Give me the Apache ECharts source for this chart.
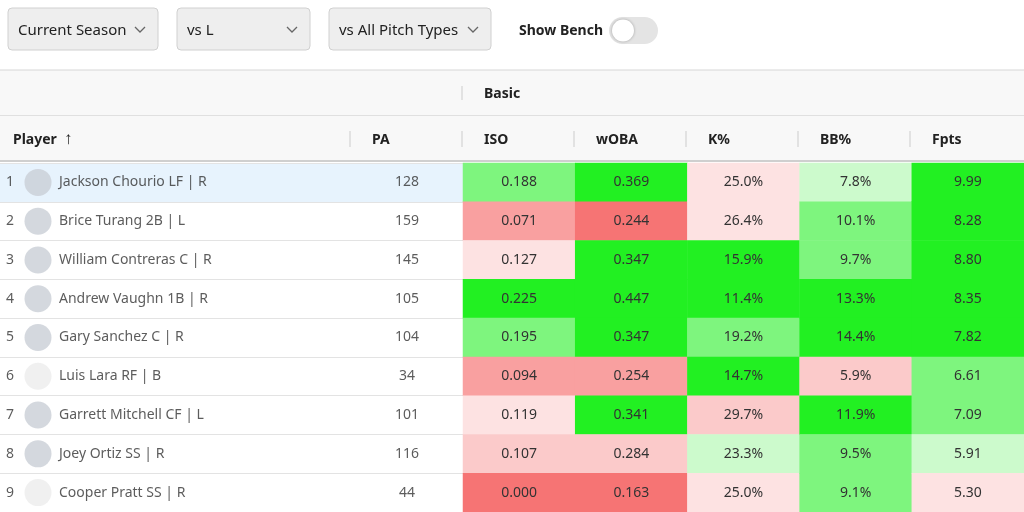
<!DOCTYPE html>
<html><head><meta charset="utf-8">
<script src="https://cdn.jsdelivr.net/npm/echarts@6/dist/echarts.min.js"></script>
<style>html,body{margin:0;padding:0;background:#fff}#c{width:1024px;height:512px}</style>
</head><body><div id="c"></div>
<script>
var statCols = ['ISO', 'wOBA', 'K%', 'BB%', 'Fpts'];
var players = ['Jackson Chourio LF | R', 'Brice Turang 2B | L', 'William Contreras C | R', 'Andrew Vaughn 1B | R',
  'Gary Sanchez C | R', 'Luis Lara RF | B', 'Garrett Mitchell CF | L', 'Joey Ortiz SS | R', 'Cooper Pratt SS | R'];
var hasPhoto = [1, 1, 1, 1, 1, 0, 1, 1, 0];
var pa = [128, 159, 145, 105, 104, 34, 101, 116, 44];
var iso = ['0.188', '0.071', '0.127', '0.225', '0.195', '0.094', '0.119', '0.107', '0.000'];
var woba = ['0.369', '0.244', '0.347', '0.447', '0.347', '0.254', '0.341', '0.284', '0.163'];
var kPct = ['25.0%', '26.4%', '15.9%', '11.4%', '19.2%', '14.7%', '29.7%', '23.3%', '25.0%'];
var bbPct = ['7.8%', '10.1%', '9.7%', '13.3%', '14.4%', '5.9%', '11.9%', '9.5%', '9.1%'];
var fpts = ['9.99', '8.28', '8.80', '8.35', '7.82', '6.61', '7.09', '5.91', '5.30'];
// shade tier: 3 best green ... -4 deepest red
var isoTier = [2, -3, -1, 3, 2, -3, -1, -2, -4];
var wobaTier = [3, -4, 3, 3, 3, -3, 3, -2, -4];
var kTier = [-1, -1, 3, 3, 2, 3, -2, 1, -1];
var bbTier = [1, 2, 2, 3, 3, -2, 3, 2, 2];
var fptsTier = [3, 3, 3, 3, 3, 2, 2, 1, -1];

var FONT = 'Noto Sans';
var rowH = 39.1, top0 = 163;
var texts = [iso, woba, kPct, bbPct, fpts];
var tiers = [isoTier, wobaTier, kTier, bbTier, fptsTier];
var heat = [];
for (var c = 0; c < statCols.length; c++) {
  for (var r = 0; r < players.length; r++) heat.push([c, r, tiers[c][r], texts[c][r]]);
}
var rows = players.map(function (p, i) { return String(i + 1); });
var rankPts = [], avatarPts = [], namePts = [], paPts = [];
for (var i = 0; i < players.length; i++) {
  rankPts.push([1, i, String(i + 1)]);
  avatarPts.push({ value: [38, i], itemStyle: { color: hasPhoto[i] ? '#c9ced6' : '#ececec' } });
  namePts.push([54, i, players[i]]);
  paPts.push([407, i, String(pa[i])]);
}

var chart = echarts.init(document.getElementById('c'));
var g = [];
function box(x, w, label) {
  g.push({ type: 'rect', shape: { x: x, y: 8, width: w, height: 42, r: 4 }, style: { fill: '#eeeeee', stroke: '#d0d0d0' } });
  g.push({ type: 'text', x: x + 10, y: 31, style: { text: label, font: '15px ' + FONT, fill: '#222', verticalAlign: 'middle' } });
  g.push({ type: 'polyline', shape: { points: [[x + w - 23, 27], [x + w - 18, 32], [x + w - 13, 27]] }, style: { stroke: '#666', lineWidth: 1.3, fill: null } });
}
box(8, 150, 'Current Season'); box(177, 133, 'vs L'); box(329, 162, 'vs All Pitch Types');
g.push({ type: 'text', x: 519, y: 31, style: { text: 'Show Bench', font: 'bold 14px ' + FONT, fill: '#222', verticalAlign: 'middle' } });
g.push({ type: 'rect', shape: { x: 609, y: 17, width: 49, height: 27, r: 13.5 }, style: { fill: '#e4e4e4' } });
g.push({ type: 'circle', shape: { cx: 623, cy: 30.5, r: 11 }, style: { fill: '#fff', shadowBlur: 3, shadowColor: 'rgba(0,0,0,0.3)' } });
// header area
g.push({ type: 'rect', z: -1, shape: { x: 0, y: 70, width: 1024, height: 91 }, style: { fill: '#f8f8f8' } });
g.push({ type: 'line', shape: { x1: 0, y1: 70, x2: 1024, y2: 70 }, style: { stroke: '#d6d6d6' } });
g.push({ type: 'line', shape: { x1: 0, y1: 115.5, x2: 1024, y2: 115.5 }, style: { stroke: '#e0e0e0' } });
g.push({ type: 'line', shape: { x1: 0, y1: 161, x2: 1024, y2: 161 }, style: { stroke: '#cfcfcf', lineWidth: 2 } });
g.push({ type: 'line', shape: { x1: 462, y1: 86, x2: 462, y2: 100 }, style: { stroke: '#ccc' } });
g.push({ type: 'text', x: 484, y: 94, style: { text: 'Basic', font: 'bold 14px ' + FONT, fill: '#222', verticalAlign: 'middle' } });
var hdr = [['Player', 13], ['PA', 372]];
statCols.forEach(function (s, k) { hdr.push([s, 484 + 112 * k]); });
hdr.forEach(function (h) {
  g.push({ type: 'text', x: h[1], y: 140, style: { text: h[0], font: 'bold 14px ' + FONT, fill: '#222', verticalAlign: 'middle' } });
});
g.push({ type: 'text', x: 64, y: 139, style: { text: '\u2191', font: '17px ' + FONT, fill: '#222', verticalAlign: 'middle' } });
[350, 462, 574, 686, 798, 910].forEach(function (x) {
  g.push({ type: 'line', shape: { x1: x, y1: 131, x2: x, y2: 147 }, style: { stroke: '#ccc' } });
});
// selected first row
g.push({ type: 'rect', z: -1, shape: { x: 0, y: top0, width: 463, height: rowH }, style: { fill: '#e7f3fd' } });

var yAxisCommon = {
  type: 'category', data: rows, inverse: true,
  axisLine: { show: false }, axisTick: { show: false }, axisLabel: { show: false },
  splitLine: { show: true, lineStyle: { color: '#e3e3e3' } }
};
function lbl(pos) {
  return { show: true, position: pos, formatter: function (p) { return p.data[2]; }, color: '#333', fontFamily: FONT, fontSize: 14 };
}

chart.setOption({
  animation: false,
  graphic: g,
  grid: [
    { left: 0, width: 463, top: top0, height: rowH * 9 },
    { left: 463, right: 0, top: top0, height: rowH * 9 }
  ],
  xAxis: [
    { type: 'value', min: 0, max: 463, show: false, gridIndex: 0 },
    { type: 'category', data: statCols, show: false, gridIndex: 1 }
  ],
  yAxis: [
    Object.assign({ gridIndex: 0 }, yAxisCommon),
    Object.assign({ gridIndex: 1 }, yAxisCommon, { splitLine: { show: false } })
  ],
  visualMap: {
    type: 'piecewise', show: false, seriesIndex: 0, dimension: 2,
    pieces: [
      { value: 3, color: '#22f022' }, { value: 2, color: '#7ef57e' }, { value: 1, color: '#ccfacc' },
      { value: -1, color: '#fde2e2' }, { value: -2, color: '#fbcaca' }, { value: -3, color: '#f9a0a0' },
      { value: -4, color: '#f67474' }
    ]
  },
  series: [
    {
      type: 'heatmap', xAxisIndex: 1, yAxisIndex: 1, data: heat,
      label: { show: true, formatter: function (p) { return p.data[3]; }, color: '#333', fontFamily: FONT, fontSize: 14 }
    },
    { type: 'scatter', symbolSize: 0, data: rankPts, label: lbl('right') },
    { type: 'scatter', symbol: 'circle', symbolSize: 27, data: avatarPts, z: 1 },
    { type: 'scatter', symbolSize: 0, data: namePts, label: lbl('right') },
    { type: 'scatter', symbolSize: 0, data: paPts, label: lbl('inside') }
  ]
});
</script></body></html>
